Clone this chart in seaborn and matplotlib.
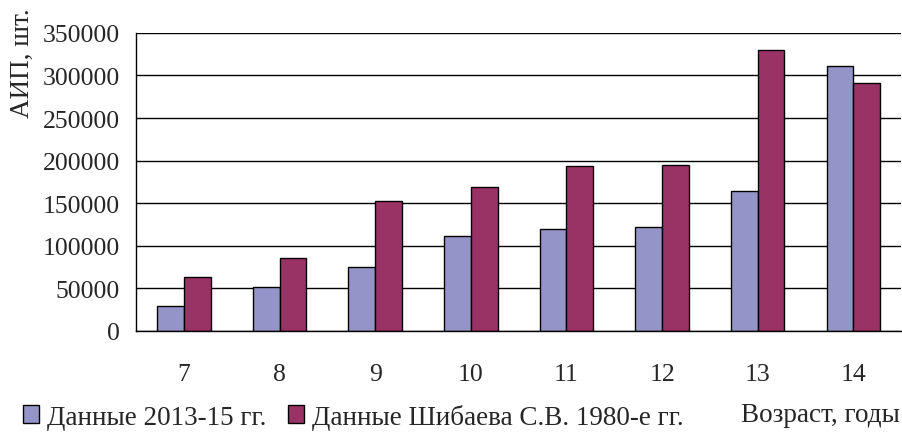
import pandas as pd
import matplotlib.pyplot as plt
import seaborn as sns
from matplotlib.patches import Patch

# Данные
ages = ["7", "8", "9", "10", "11", "12", "13", "14"]
new_data = [29000, 52000, 75000, 112000, 120000, 122000, 164000, 311000]
old_data = [63000, 86000, 153000, 169000, 194000, 195000, 330000, 291000]
series = ["Данные 2013-15 гг.", "Данные Шибаева С.В. 1980-е гг."]
colors = ["#9494C8", "#993366"]

df = pd.DataFrame({
    "age": ages * 2,
    "value": new_data + old_data,
    "series": [series[0]] * len(ages) + [series[1]] * len(ages),
})

sns.set_style("white")
plt.rcParams["font.family"] = ["Liberation Serif", "DejaVu Serif"]
fs = 18.5
fs_big = 19.5

fig = plt.figure(figsize=(9.02, 4.35), dpi=100)
ax = fig.add_axes([0.151, 0.237, 0.848, 0.685])

sns.barplot(data=df, x="age", y="value", hue="series", order=ages,
            hue_order=series, palette=colors, width=0.56, gap=0,
            edgecolor="black", linewidth=1, saturation=1, ax=ax, legend=False)

ax.set_ylim(0, 350000)
ax.set_yticks(range(0, 350001, 50000))
ax.set_xlim(-0.5, len(ages) - 0.5)
ax.yaxis.grid(True, color="black", linewidth=1)
ax.set_axisbelow(True)

# деления оси X между категориями
ax.set_xticks([i - 0.5 for i in range(len(ages) + 1)], minor=True)
ax.tick_params(axis="x", which="major", length=0, pad=23, labelsize=fs)
ax.tick_params(axis="x", which="minor", length=4.5, direction="out", width=1, color="black")
ax.tick_params(axis="y", length=4.5, direction="out", width=1, color="black", labelsize=fs, pad=7)

for s in ["top", "right"]:
    ax.spines[s].set_visible(False)
for s in ["left", "bottom"]:
    ax.spines[s].set_color("black")
    ax.spines[s].set_linewidth(1)

ax.set_xlabel("")
ax.set_ylabel("")
fig.text(0.011, 0.98, "АИП, шт.", rotation=90, ha="left", va="top", fontsize=fs_big)
fig.text(0.998, 0.045, "Возраст, годы", ha="right", va="center", fontsize=fs_big)

handles = [Patch(facecolor=c, edgecolor="black", linewidth=1) for c in colors]
fig.legend(handles, series, loc="center left", bbox_to_anchor=(0.025, 0.04),
           ncol=2, frameon=False, fontsize=fs_big, handlelength=0.6, handleheight=0.6,
           handletextpad=0.3, columnspacing=0.8, borderaxespad=0, borderpad=0)

fig.savefig("out.png", dpi=100)
plt.close(fig)
